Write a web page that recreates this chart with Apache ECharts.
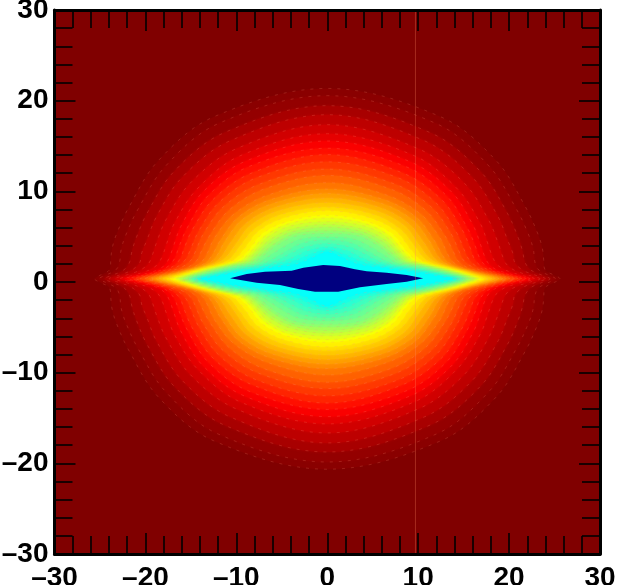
<!DOCTYPE html>
<html>
<head>
<meta charset="utf-8">
<style>html,body{margin:0;padding:0;background:#fff}#c{width:618px;height:585px}</style>
<script src="https://cdn.jsdelivr.net/npm/echarts@6/dist/echarts.min.js"></script>
</head>
<body>
<div id="c"></div>
<script>
// Axis ticks
const axisMin = -30, axisMax = 30, majorStep = 10;
// Contour centre
const centreY = 0.35;
// Polar angles (degrees from the midplane) where contour radii were read
const angles = [0, 1, 2, 3, 5, 8, 12, 20, 35, 55, 90];
// Value of each filled contour, outside to inside
const levels = [0.99,0.98,0.96,0.94,0.92,0.90,0.88,0.86,0.84,0.82,0.80,0.78,0.76,0.74,0.72,0.70,0.68,0.66,0.64,0.62,0.60,0.58,0.56,0.54,0.52,0.50,0.48,0.46,0.44,0.42,0.40,0.38];
// Radius of each contour at each angle
const radii = [
  [25.6,24.9,24.1,23.9,23.9,23.9,23.7,23.2,22.7,21.8,21.0],
  [25.1,24.3,23.5,23.1,22.9,22.9,22.7,22.2,21.7,20.9,20.2],
  [24.5,23.6,22.7,22.2,21.8,21.7,21.5,21.1,20.6,19.7,19.1],
  [24.0,22.9,21.9,21.3,20.7,20.6,20.3,20.0,19.5,18.6,18.1],
  [23.4,22.2,21.1,20.4,19.7,19.4,19.2,18.9,18.4,17.5,17.0],
  [22.8,21.4,20.3,19.5,18.7,18.3,18.1,17.9,17.4,16.6,16.0],
  [22.3,20.8,19.6,18.7,17.9,17.5,17.3,17.1,16.7,15.8,15.2],
  [21.9,20.4,19.2,18.3,17.4,16.9,16.7,16.4,16.0,15.1,14.4],
  [21.4,20.0,18.8,17.9,16.9,16.3,16.1,15.8,15.3,14.3,13.7],
  [21.0,19.6,18.4,17.5,16.4,15.7,15.4,15.1,14.6,13.6,12.9],
  [20.6,19.2,18.0,17.1,15.9,15.1,14.8,14.5,13.9,12.8,12.1],
  [20.1,18.8,17.6,16.6,15.3,14.5,14.2,13.8,13.2,12.1,11.4],
  [19.7,18.5,17.2,16.2,14.8,13.9,13.5,13.2,12.5,11.3,10.6],
  [19.3,18.1,16.9,15.9,14.5,13.4,12.9,12.5,11.9,10.7,9.9],
  [18.9,17.8,16.6,15.7,14.2,13.0,12.4,12.0,11.4,10.2,9.4],
  [18.5,17.4,16.3,15.4,14.0,12.6,11.9,11.4,10.8,9.7,8.9],
  [18.1,17.1,16.1,15.2,13.8,12.3,11.4,10.8,10.3,9.2,8.4],
  [17.7,16.7,15.8,15.0,13.5,11.9,10.9,10.3,9.7,8.7,7.9],
  [17.3,16.4,15.5,14.8,13.3,11.5,10.4,9.7,9.2,8.2,7.5],
  [17.0,16.1,15.3,14.6,13.1,11.3,10.0,9.2,8.7,7.7,7.0],
  [16.7,15.9,15.0,14.3,12.9,11.1,9.7,8.9,8.3,7.4,6.7],
  [16.4,15.6,14.8,14.1,12.7,10.9,9.5,8.6,8.0,7.1,6.3],
  [16.2,15.4,14.6,13.9,12.4,10.7,9.2,8.4,7.6,6.7,6.0],
  [15.9,15.1,14.3,13.6,12.2,10.5,8.9,8.1,7.3,6.4,5.7],
  [15.6,14.9,14.1,13.4,12.0,10.3,8.7,7.8,6.9,6.1,5.3],
  [15.3,14.6,13.8,13.1,11.8,10.1,8.4,7.5,6.6,5.8,5.0],
  [15.1,14.3,13.5,12.8,11.4,9.7,8.0,7.0,6.0,5.3,4.6],
  [14.9,14.0,13.1,12.4,11.0,9.2,7.6,6.4,5.4,4.8,4.3],
  [14.6,13.7,12.8,12.0,10.6,8.8,7.3,5.9,4.9,4.3,3.9],
  [14.4,13.4,12.5,11.7,10.2,8.4,6.9,5.4,4.3,3.8,3.5],
  [14.2,13.1,12.1,11.3,9.8,7.9,6.5,4.9,3.8,3.3,3.2],
  [14.0,12.8,11.8,11.0,9.4,7.5,6.2,4.4,3.3,2.9,3.0]
];
// Outline of the innermost (navy) region
const coreX = [-10.69,-8.86,-6.85,-3.91,-2.63,-0.44,1.4,3.04,4.33,6.53,8.73,10.55,8.73,6.53,3.6,1.21,-1.35,-3.19,-5.2,-7.76];
const coreY = [0.41,0.88,1.14,1.25,1.58,1.87,1.76,1.4,1.18,1.03,0.77,0.41,0.03,-0.22,-0.58,-1.07,-1.07,-0.77,-0.33,-0.08];
// Faint vertical seam
const seamX = 9.7;
const seamY = [-30, 30];

function jet(t) {
  const c = v => Math.round(255 * Math.max(0, Math.min(1, v)));
  const r = Math.min(4 * t - 1.5, -4 * t + 4.5);
  const g = Math.min(4 * t - 0.5, -4 * t + 3.5);
  const b = Math.min(4 * t + 0.5, -4 * t + 2.5);
  return 'rgb(' + c(r) + ',' + c(g) + ',' + c(b) + ')';
}

const FONT = '"Liberation Sans", Arial, sans-serif';
function label(v) { return String(v).replace('-', '\u2013'); }

function baseAxis(pos, showLabel, extra) {
  return Object.assign({
    type: 'value', min: axisMin, max: axisMax, interval: majorStep, position: pos, z: 10,
    splitLine: { show: false },
    axisLine: { show: true, onZero: false, lineStyle: { color: '#000', width: 3 } },
    axisTick: { show: true, inside: true, length: 21, lineStyle: { color: '#000', width: 1.6 } },
    minorTick: { show: true, splitNumber: 5, length: 18, lineStyle: { color: '#000', width: 1.6 } },
    axisLabel: { show: showLabel, formatter: label, color: '#000', fontFamily: FONT, fontWeight: 'bold', fontSize: 28, margin: 6, padding: [4, 0, 0, 0], hideOverlap: false, showMinLabel: true, showMaxLabel: true }
  }, extra || {});
}

function contourItem(params, api) {
  const i = params.dataIndex;
  const row = radii[i];
  const pts = [];
  const add = (deg, r) => {
    const a = deg * Math.PI / 180;
    pts.push(api.coord([r * Math.cos(a), centreY + r * Math.sin(a)]));
  };
  for (let k = 0; k < angles.length; k++) add(angles[k], row[k]);
  for (let k = angles.length - 2; k >= 0; k--) add(180 - angles[k], row[k]);
  for (let k = 1; k < angles.length; k++) add(180 + angles[k], row[k]);
  for (let k = angles.length - 2; k >= 1; k--) add(360 - angles[k], row[k]);
  const fill = jet(levels[i]);
  return {
    type: 'polygon',
    shape: { points: pts, smooth: 0.35 },
    style: { fill: fill, stroke: 'rgba(255,150,120,0.2)', lineWidth: 1, lineDash: [3, 6],
      shadowBlur: i === 0 ? 0 : 3, shadowColor: fill }
  };
}

function coreItem(params, api) {
  const pts = coreX.map((x, k) => api.coord([x, coreY[k]]));
  return { type: 'polygon', shape: { points: pts }, style: { fill: '#000080' } };
}

const chart = echarts.init(document.getElementById('c'), null, { renderer: 'canvas' });
chart.setOption({
  animation: false,
  backgroundColor: '#fff',
  grid: { left: 54.5, right: 18, top: 10, bottom: 31, outerBoundsMode: 'none', show: true, backgroundColor: jet(1), borderWidth: 0 },
  xAxis: [
    baseAxis('bottom', true, { axisLabel: Object.assign(baseAxis('bottom', true).axisLabel, { margin: 6 }) }),
    baseAxis('top', false)
  ],
  yAxis: [
    baseAxis('left', true),
    baseAxis('right', false)
  ],
  series: [
    { type: 'custom', silent: true, z: 2, clip: true, coordinateSystem: 'cartesian2d',
      data: levels.map(v => [0, v]), renderItem: contourItem },
    { type: 'custom', silent: true, z: 3, clip: true, coordinateSystem: 'cartesian2d',
      data: [[0, 0]], renderItem: coreItem },
    { type: 'line', silent: true, z: 4, symbol: 'none',
      data: seamY.map(y => [seamX, y]),
      lineStyle: { color: 'rgba(255,140,100,0.3)', width: 1 } }
  ]
});
</script>
</body>
</html>
